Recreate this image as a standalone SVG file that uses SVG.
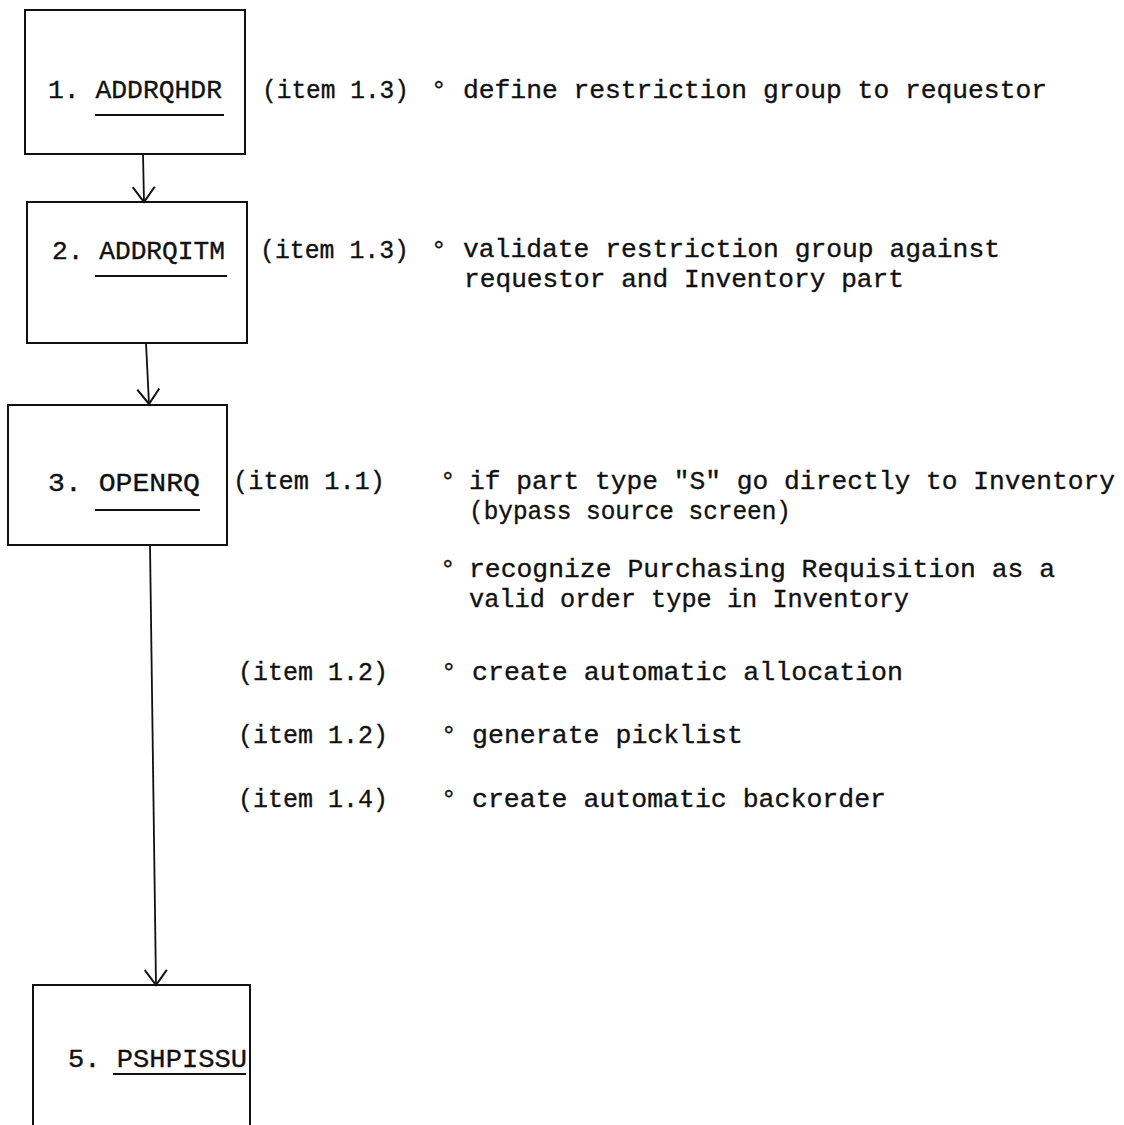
<svg xmlns="http://www.w3.org/2000/svg" width="1124" height="1125" viewBox="0 0 1124 1125">
<style>
.box{fill:none;stroke:#111;stroke-width:2}
.con{fill:none;stroke:#111;stroke-width:1.8}
text{font-family:"Liberation Mono","DejaVu Sans Mono",monospace;font-size:26px;fill:#111;stroke:#111;stroke-width:0.35}
.ul{stroke:#111;stroke-width:2}
</style>
<defs>
<marker id="arr" viewBox="-2 -13 19 26" refX="15" refY="0" markerWidth="19" markerHeight="26" markerUnits="userSpaceOnUse" orient="auto">
<path d="M0,-11 L15,0 L0,11" fill="none" stroke="#111" stroke-width="2"/>
</marker>
</defs>
<rect width="1124" height="1125" fill="#fff"/>
<g id="connectors">
<line class="con" x1="143" y1="154" x2="144" y2="202" marker-end="url(#arr)"/>
<line class="con" x1="146" y1="343" x2="149" y2="404" marker-end="url(#arr)"/>
<line class="con" x1="150" y1="545" x2="156" y2="985" marker-end="url(#arr)"/>
</g>
<g id="node1">
<rect class="box" x="25" y="10" width="220" height="144"/>
<text x="48" y="98" textLength="174" lengthAdjust="spacingAndGlyphs">1. ADDRQHDR</text>
<line class="ul" x1="95" y1="115" x2="224" y2="115"/>
</g>
<g id="node2">
<rect class="box" x="27" y="202" width="220" height="141"/>
<text x="52" y="259" textLength="173" lengthAdjust="spacingAndGlyphs">2. ADDRQITM</text>
<line class="ul" x1="95" y1="276" x2="227" y2="276"/>
</g>
<g id="node3">
<rect class="box" x="8" y="405" width="219" height="140"/>
<text x="48" y="491" textLength="152" lengthAdjust="spacingAndGlyphs">3. OPENRQ</text>
<line class="ul" x1="95" y1="510" x2="200" y2="510"/>
</g>
<g id="node5">
<path class="box" d="M33,1126 L33,985 L250,985 L250,1126"/>
<text x="68" y="1067" textLength="179" lengthAdjust="spacingAndGlyphs">5. PSHPISSU</text>
<line class="ul" x1="113" y1="1074" x2="246" y2="1074"/>
</g>
<g id="notes">
<text x="262" y="98" textLength="147" lengthAdjust="spacingAndGlyphs">(item 1.3)</text>
<text x="431" y="98">°</text>
<text x="463" y="98" textLength="584" lengthAdjust="spacingAndGlyphs">define restriction group to requestor</text>

<text x="260" y="258" textLength="149" lengthAdjust="spacingAndGlyphs">(item 1.3)</text>
<text x="431" y="258">°</text>
<text x="463" y="257" textLength="537" lengthAdjust="spacingAndGlyphs">validate restriction group against</text>
<text x="464" y="287" textLength="440" lengthAdjust="spacingAndGlyphs">requestor and Inventory part</text>

<text x="233" y="489" textLength="152" lengthAdjust="spacingAndGlyphs">(item 1.1)</text>
<text x="440" y="489">°</text>
<text x="469" y="489" textLength="646" lengthAdjust="spacingAndGlyphs">if part type "S" go directly to Inventory</text>
<text x="469" y="519" textLength="322" lengthAdjust="spacingAndGlyphs">(bypass source screen)</text>

<text x="440" y="577">°</text>
<text x="469" y="577" textLength="586" lengthAdjust="spacingAndGlyphs">recognize Purchasing Requisition as a</text>
<text x="469" y="607" textLength="440" lengthAdjust="spacingAndGlyphs">valid order type in Inventory</text>

<text x="238" y="680" textLength="150" lengthAdjust="spacingAndGlyphs">(item 1.2)</text>
<text x="441" y="680">°</text>
<text x="472" y="680" textLength="431" lengthAdjust="spacingAndGlyphs">create automatic allocation</text>

<text x="238" y="743" textLength="150" lengthAdjust="spacingAndGlyphs">(item 1.2)</text>
<text x="441" y="743">°</text>
<text x="472" y="743" textLength="271" lengthAdjust="spacingAndGlyphs">generate picklist</text>

<text x="238" y="807" textLength="150" lengthAdjust="spacingAndGlyphs">(item 1.4)</text>
<text x="441" y="807">°</text>
<text x="472" y="807" textLength="414" lengthAdjust="spacingAndGlyphs">create automatic backorder</text>
</g>
</svg>
